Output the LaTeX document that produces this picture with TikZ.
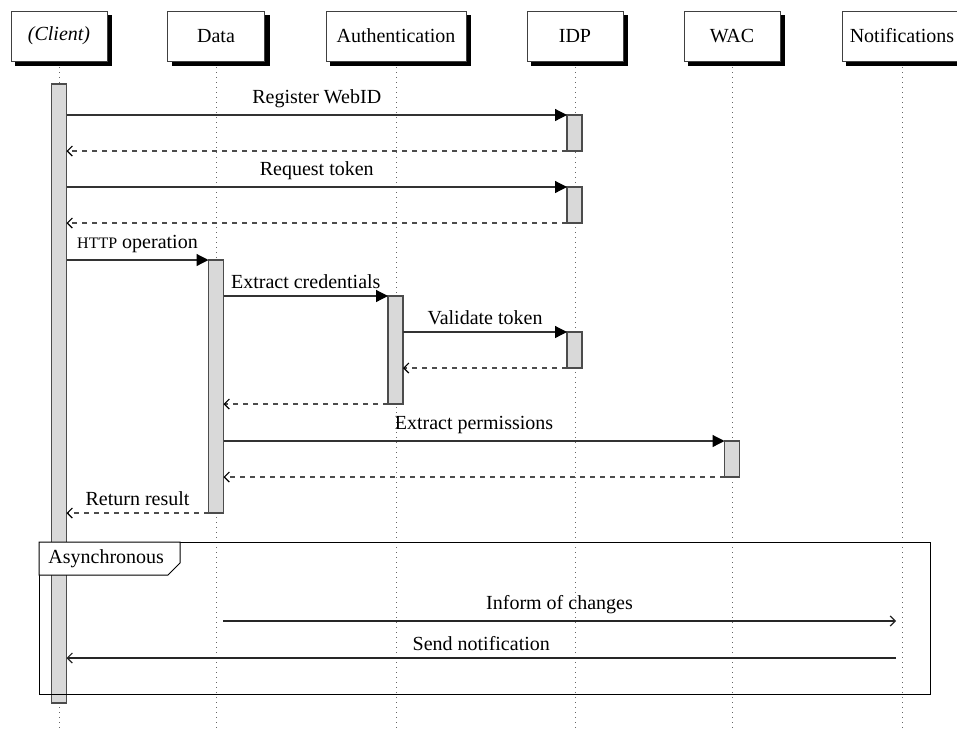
\documentclass[tikz,border=0pt]{standalone}
\usepackage{fontspec}
\setmainfont{Liberation Serif}
\usetikzlibrary{arrows.meta,backgrounds,calc}
\begin{document}
\begin{tikzpicture}[x=0.5pt,y=-0.5pt,
  head/.style={draw=black!75, fill=white, minimum height=25pt, inner sep=2pt, outer sep=0pt},
  life/.style={dotted, black!60, line width=0.5pt},
  bar/.style={draw=black!70, fill=black!15, minimum width=7.5pt, inner sep=0pt, outer sep=0pt, line width=0.6pt},
  call/.style={draw=black!80, line width=0.6pt, -{Triangle[length=6pt,width=6pt,color=black,fill=black]}},
  ret/.style={draw=black!70, line width=0.6pt, dash pattern=on 2.5pt off 2.5pt, -{Straight Barb[length=2.5pt,width=5pt,color=black]}},
  asyncmsg/.style={draw=black!85, line width=0.6pt, -{Straight Barb[length=2.5pt,width=5pt]}},
  lbl/.style={font=\fontsize{10}{12}\selectfont}
]
\useasboundingbox (0,0) rectangle (957,729);
\coordinate (bot) at (0,729);

% heads
\node[head, minimum width=48pt] (client) at (59,36) {\textit{(Client)}};
\node[head, minimum width=48.5pt] (data) at (216,36) {Data};
\node[head, minimum width=70pt] (auth) at (396,36) {Authentication};
\node[head, minimum width=48pt] (idp) at (575,36) {IDP};
\node[head, minimum width=48pt] (wac) at (732,36) {WAC};
\node[head, minimum width=60pt] (notif) at (902,36) {Notifications};

% shadows and lifelines
\begin{scope}[on background layer]
\foreach \n in {client,data,auth,idp,wac,notif}
  \fill[black] ($(\n.south west)+(4,5)$) rectangle ($(\n.north east)+(5,4)$);
\end{scope}
\foreach \n in {client,data,auth,idp,wac,notif}
  \draw[life] ([yshift=-3pt]\n.south) -- (\n.south |- bot);

% activation bars
\node[bar, minimum height=309.5pt] (cbar) at (59,393.5) {};
\node[bar, minimum height=18pt] (i1) at (574.5,133) {};
\node[bar, minimum height=18pt] (i2) at (574.5,205) {};
\node[bar, minimum height=18pt] (i3) at (574.5,350) {};
\node[bar, minimum height=126.5pt] (dbar) at (216,386.5) {};
\node[bar, minimum height=54pt] (abar) at (395.5,350) {};
\node[bar, minimum height=18pt] (wbar) at (732,459) {};

% messages
\draw[call] (cbar.east |- i1.north) -- node[lbl, above] (m1) {Register WebID} (i1.north west);
\draw[ret] (i1.south west) -- (cbar.east |- i1.south);
\draw[call] (cbar.east |- i2.north) -- node[lbl, above] (m2) {Request token} (i2.north west);
\draw[ret] (i2.south west) -- (cbar.east |- i2.south);
\draw[call] (cbar.east |- dbar.north) -- node[lbl, above] (m3) {{\footnotesize HTTP} operation} (dbar.north west);
\draw[call] (dbar.east |- abar.north) -- node[lbl, above] (m4) {Extract credentials} (abar.north west);
\draw[call] (abar.east |- i3.north) -- node[lbl, above] (m5) {Validate token} (i3.north west);
\draw[ret] (i3.south west) -- (abar.east |- i3.south);
\draw[ret] (abar.south west) -- (dbar.east |- abar.south);
\draw[call] (dbar.east |- wbar.north) -- node[lbl, above] (m6) {Extract permissions} (wbar.north west);
\draw[ret] (wbar.south west) -- (dbar.east |- wbar.south);
\draw[ret] (dbar.south west) -- node[lbl, above] (m7) {Return result} (cbar.east |- dbar.south);

% frame
\node[draw=black, line width=0.5pt, minimum width=445.5pt, minimum height=76pt, anchor=north west,
      inner sep=0pt, outer sep=0pt] (frame) at (39,542) {};
\filldraw[fill=white, draw=black, line width=0.5pt] (frame.north west) -- ($(frame.north west)+(141,0)$)
  -- ($(frame.north west)+(141,21)$) -- ($(frame.north west)+(129,33)$) -- ($(frame.north west)+(0,33)$) -- cycle;
\node[lbl, anchor=west, inner sep=0pt] (asynclbl) at ($(frame.north west)+(9,16.5)$) {Asynchronous};

% async messages
\coordinate (inS) at (223,621);
\coordinate (inE) at (896,621);
\coordinate (snS) at (896,658);
\draw[asyncmsg] (inS) -- node[lbl, above] (m8) {Inform of changes} (inE);
\draw[asyncmsg] (snS) -- node[lbl, above] (m9) {Send notification} (cbar.east |- snS);
\end{tikzpicture}
\end{document}
